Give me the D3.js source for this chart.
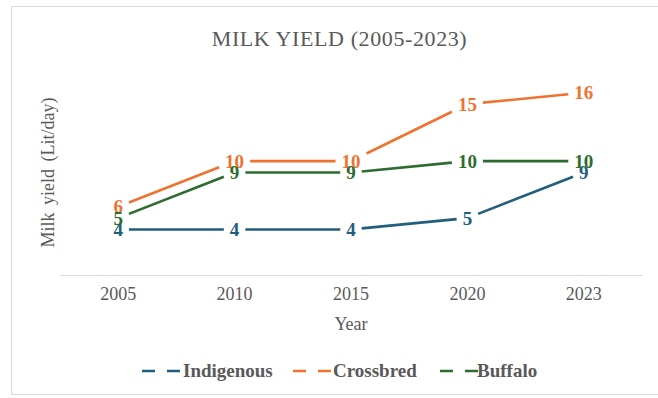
<!DOCTYPE html>
<html>
<head>
<meta charset="utf-8">
<script src="https://cdn.jsdelivr.net/npm/d3@7"></script>
<style>
  html, body { margin: 0; padding: 0; background: #fff; }
  svg { display: block; }
  text { font-family: "Liberation Serif", "Times New Roman", serif; }
</style>
</head>
<body>
<svg id="chart" width="658" height="398"></svg>
<script>
const years = ["2005", "2010", "2015", "2020", "2023"];
const indigenous = [4, 4, 4, 5, 9];
const crossbred = [6, 10, 10, 15, 16];
const buffalo = [5, 9, 9, 10, 10];
const seriesNames = ["Indigenous", "Crossbred", "Buffalo"];
const seriesColors = ["#215d7c", "#ee7230", "#2d6b2f"];
const titleText = "MILK YIELD (2005-2023)";
const xTitle = "Year";
const yTitle = "Milk yield (Lit/day)";

const series = [indigenous, crossbred, buffalo].map((vals, i) => ({
  name: seriesNames[i], color: seriesColors[i], values: vals
}));

const svg = d3.select("#chart");
const W = 658, H = 398;
const plot = { left: 60, right: 642, top: 70, bottom: 275 };

// frame
svg.append("rect").attr("x", 11.5).attr("y", 6.5).attr("width", 680).attr("height", 388)
  .attr("fill", "#fff").attr("stroke", "#d9d9d9").attr("stroke-width", 1);

const x = d3.scaleBand().domain(years).range([plot.left, plot.right]);
const y = d3.scaleLinear().domain([0, 18]).range([plot.bottom, plot.top]);
const cx = d => x(d) + x.bandwidth() / 2;

// title
svg.append("text").attr("x", 339.5).attr("y", 46).attr("text-anchor", "middle")
  .attr("font-size", 22).attr("fill", "#595959").attr("letter-spacing", 0.6).text(titleText);

// x axis
const xAxis = d3.axisBottom(x).tickSize(0).tickPadding(12);
const gx = svg.append("g").attr("transform", `translate(0,${plot.bottom})`).call(xAxis);
gx.select(".domain").attr("stroke", "#d9d9d9").attr("stroke-width", 1.2);
gx.selectAll("text").attr("font-size", 18).attr("fill", "#595959")
  .attr("font-family", "Liberation Serif, serif").attr("dy", "0.71em");

svg.append("text").attr("x", (plot.left + plot.right) / 2).attr("y", 330)
  .attr("text-anchor", "middle").attr("font-size", 18).attr("fill", "#595959").text(xTitle);

svg.append("text").attr("transform", `translate(54,${(plot.top + plot.bottom) / 2}) rotate(-90)`)
  .attr("text-anchor", "middle").attr("font-size", 18).attr("fill", "#595959")
  .attr("word-spacing", 3).text(yTitle);

// lines with gaps around labels
const labelFont = 19;
const gLines = svg.append("g");
const gLabels = svg.append("g");

function trim(p, q, hw, hh) {
  // move from p toward q until leaving rectangle of half sizes hw, hh centered at p
  const dx = q[0] - p[0], dy = q[1] - p[1];
  const tx = dx === 0 ? Infinity : hw / Math.abs(dx);
  const ty = dy === 0 ? Infinity : hh / Math.abs(dy);
  const t = Math.min(tx, ty);
  return [p[0] + dx * t, p[1] + dy * t];
}

series.forEach(s => {
  const pts = s.values.map((v, i) => [cx(years[i]), y(v)]);
  const hws = s.values.map(v => String(v).length * labelFont * 0.25 + 6);
  const hh = 10;
  for (let i = 0; i < pts.length - 1; i++) {
    const a = trim(pts[i], pts[i + 1], hws[i], hh);
    const b = trim(pts[i + 1], pts[i], hws[i + 1], hh);
    gLines.append("line").attr("x1", a[0]).attr("y1", a[1]).attr("x2", b[0]).attr("y2", b[1])
      .attr("stroke", s.color).attr("stroke-width", 2.6).attr("stroke-linecap", "butt");
  }
  pts.forEach((p, i) => {
    gLabels.append("text").attr("x", p[0]).attr("y", p[1]).attr("dy", "0.35em")
      .attr("text-anchor", "middle").attr("font-size", labelFont).attr("font-weight", "bold")
      .attr("fill", s.color).text(s.values[i]);
  });
});

// legend
const legendItems = [
  { x: 142, textX: 183 },
  { x: 293, textX: 333 },
  { x: 440, textX: 477 }
];
series.forEach((s, i) => {
  const li = legendItems[i];
  svg.append("line").attr("x1", li.x).attr("x2", li.x + 38).attr("y1", 371).attr("y2", 371)
    .attr("stroke", s.color).attr("stroke-width", 2.6).attr("stroke-dasharray", "13,12");
  svg.append("text").attr("x", li.textX).attr("y", 377).attr("font-size", 19)
    .attr("font-weight", "bold").attr("fill", "#595959").text(s.name);
});
</script>
</body>
</html>
